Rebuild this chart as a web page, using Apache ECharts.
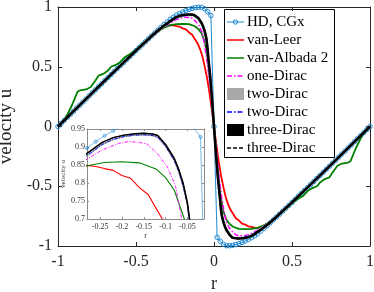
<!DOCTYPE html>
<html><head><meta charset="utf-8">
<script src="https://cdn.jsdelivr.net/npm/echarts@6/dist/echarts.min.js"></script>
<style>html,body{margin:0;padding:0;background:#fff}#c{width:374px;height:292px}</style>
</head><body><div id="c"></div>
<script>
// ---------- data ----------
const xTicks = [-1, -0.5, 0, 0.5, 1];
const yTicks = [-1, -0.5, 0, 0.5, 1];
const insetXTicks = [-0.25, -0.2, -0.15, -0.1, -0.05];
const insetYTicks = [0.7, 0.75, 0.8, 0.85, 0.9, 0.95];

const hdR = [-1,-0.98,-0.96,-0.94,-0.92,-0.9,-0.88,-0.86,-0.84,-0.82,-0.8,-0.78,-0.76,-0.74,-0.72,-0.7,-0.68,-0.66,-0.64,-0.62,-0.6,-0.58,-0.56,-0.54,-0.52,-0.5,-0.48,-0.46,-0.44,-0.42,-0.4,-0.38,-0.36,-0.34,-0.32,-0.3,-0.28,-0.26,-0.24,-0.22,-0.2,-0.18,-0.16,-0.14,-0.12,-0.1,-0.08,-0.06,-0.04,-0.02,0,
 0.02,0.04,0.06,0.08,0.1,0.12,0.14,0.16,0.18,0.2,0.22,0.24,0.26,0.28,0.3,0.32,0.34,0.36,0.38,0.4,0.42,0.44,0.46,0.48,0.5,0.52,0.54,0.56,0.58,0.6,0.62,0.64,0.66,0.68,0.7,0.72,0.74,0.76,0.78,0.8,0.82,0.84,0.86,0.88,0.9,0.92,0.94,0.96,0.98,1];
const hdU = [0,0.026,0.051,0.077,0.102,0.128,0.154,0.179,0.205,0.230,0.256,0.282,0.307,0.333,0.358,0.384,0.409,0.434,0.460,0.485,0.510,0.535,0.560,0.585,0.610,0.635,0.660,0.684,0.709,0.734,0.758,0.782,0.806,0.829,0.852,0.875,0.897,0.915,0.931,0.945,0.958,0.970,0.980,0.988,0.994,0.998,0.997,0.985,0.960,0.928,0,
 -0.928,-0.960,-0.985,-0.997,-0.998,-0.994,-0.988,-0.980,-0.970,-0.958,-0.945,-0.931,-0.915,-0.897,-0.875,-0.852,-0.829,-0.806,-0.782,-0.758,-0.734,-0.709,-0.684,-0.660,-0.635,-0.610,-0.585,-0.560,-0.535,-0.510,-0.485,-0.460,-0.434,-0.409,-0.384,-0.358,-0.333,-0.307,-0.282,-0.256,-0.230,-0.205,-0.179,-0.154,-0.128,-0.102,-0.077,-0.051,-0.026,0];

const vanLeer = [[-1,0],[-0.9,0.128],[-0.8,0.256],[-0.7,0.384],[-0.6,0.51],[-0.5,0.634],[-0.4,0.755],[-0.36,0.797],[-0.33,0.823],[-0.3,0.842],[-0.28,0.849],[-0.26,0.846],[-0.24,0.84],[-0.22,0.835],[-0.2,0.821],[-0.18,0.813],[-0.16,0.787],[-0.14,0.768],[-0.12,0.726],[-0.105,0.695],[-0.09,0.65],[-0.075,0.59],[-0.06,0.505],[-0.045,0.41],[-0.03,0.29],[-0.015,0.15],[0,0],
 [0.015,-0.15],[0.03,-0.29],[0.045,-0.41],[0.06,-0.505],[0.075,-0.59],[0.09,-0.65],[0.105,-0.695],[0.12,-0.726],[0.14,-0.768],[0.16,-0.787],[0.18,-0.813],[0.2,-0.821],[0.22,-0.835],[0.24,-0.84],[0.26,-0.846],[0.28,-0.849],[0.3,-0.842],[0.33,-0.823],[0.36,-0.797],[0.4,-0.755],[0.5,-0.634],[0.6,-0.51],[0.7,-0.384],[0.8,-0.256],[0.9,-0.128],[1,0]];

const vanAlbada2 = [[-1,0],[-0.95,0.075],[-0.91,0.18],[-0.875,0.29],[-0.86,0.302],[-0.82,0.31],[-0.79,0.33],[-0.76,0.385],[-0.74,0.425],[-0.71,0.44],[-0.68,0.468],[-0.66,0.5],[-0.63,0.515],[-0.6,0.54],[-0.57,0.582],[-0.53,0.612],[-0.48,0.665],[-0.44,0.712],[-0.4,0.758],[-0.36,0.795],[-0.32,0.828],[-0.28,0.848],[-0.24,0.857],[-0.2,0.859],[-0.16,0.856],[-0.122,0.839],[-0.1,0.815],[-0.08,0.78],[-0.057,0.7],[-0.04,0.56],[-0.02,0.31],[0,0],
 [0.02,-0.31],[0.04,-0.56],[0.057,-0.7],[0.08,-0.78],[0.1,-0.815],[0.122,-0.839],[0.16,-0.856],[0.2,-0.859],[0.24,-0.857],[0.28,-0.848],[0.32,-0.828],[0.36,-0.795],[0.4,-0.758],[0.44,-0.712],[0.48,-0.665],[0.53,-0.612],[0.57,-0.582],[0.6,-0.54],[0.63,-0.515],[0.66,-0.5],[0.68,-0.468],[0.71,-0.44],[0.74,-0.425],[0.76,-0.385],[0.79,-0.33],[0.82,-0.31],[0.86,-0.302],[0.875,-0.29],[0.91,-0.18],[0.95,-0.075],[1,0]];

const oneDirac = [[-1,0],[-0.9,0.128],[-0.8,0.256],[-0.7,0.384],[-0.6,0.51],[-0.5,0.634],[-0.4,0.755],[-0.36,0.798],[-0.32,0.834],[-0.283,0.864],[-0.245,0.892],[-0.207,0.91],[-0.184,0.915],[-0.161,0.913],[-0.142,0.908],[-0.119,0.882],[-0.096,0.845],[-0.077,0.79],[-0.063,0.7],[-0.05,0.6],[-0.035,0.45],[-0.018,0.24],[0,0],
 [0.018,-0.24],[0.035,-0.45],[0.05,-0.6],[0.063,-0.7],[0.077,-0.79],[0.096,-0.845],[0.119,-0.882],[0.142,-0.908],[0.161,-0.913],[0.184,-0.915],[0.207,-0.91],[0.245,-0.892],[0.283,-0.864],[0.32,-0.834],[0.36,-0.798],[0.4,-0.755],[0.5,-0.634],[0.6,-0.51],[0.7,-0.384],[0.8,-0.256],[0.9,-0.128],[1,0]];

const twoDirac = [[-1,0],[-0.9,0.128],[-0.8,0.256],[-0.7,0.384],[-0.6,0.51],[-0.5,0.635],[-0.4,0.756],[-0.36,0.8],[-0.32,0.84],[-0.28,0.876],[-0.245,0.907],[-0.22,0.921],[-0.195,0.929],[-0.17,0.933],[-0.15,0.934],[-0.13,0.932],[-0.118,0.927],[-0.1,0.902],[-0.08,0.862],[-0.07,0.832],[-0.06,0.792],[-0.05,0.74],[-0.046,0.7],[-0.036,0.565],[-0.025,0.425],[-0.012,0.215],[0,0],
 [0.012,-0.215],[0.025,-0.425],[0.036,-0.565],[0.046,-0.7],[0.05,-0.74],[0.06,-0.792],[0.07,-0.832],[0.08,-0.862],[0.1,-0.902],[0.118,-0.927],[0.13,-0.932],[0.15,-0.934],[0.17,-0.933],[0.195,-0.929],[0.22,-0.921],[0.245,-0.907],[0.28,-0.876],[0.32,-0.84],[0.36,-0.8],[0.4,-0.756],[0.5,-0.635],[0.6,-0.51],[0.7,-0.384],[0.8,-0.256],[0.9,-0.128],[1,0]];

const threeDirac = [[-1,0],[-0.9,0.128],[-0.8,0.256],[-0.7,0.384],[-0.6,0.51],[-0.5,0.635],[-0.4,0.757],[-0.36,0.803],[-0.32,0.845],[-0.28,0.882],[-0.245,0.913],[-0.22,0.926],[-0.195,0.933],[-0.17,0.937],[-0.15,0.938],[-0.13,0.936],[-0.118,0.932],[-0.1,0.907],[-0.08,0.868],[-0.07,0.838],[-0.06,0.8],[-0.05,0.745],[-0.045,0.7],[-0.036,0.57],[-0.025,0.43],[-0.012,0.22],[0,0],
 [0.012,-0.22],[0.025,-0.43],[0.036,-0.57],[0.045,-0.7],[0.05,-0.745],[0.06,-0.8],[0.07,-0.838],[0.08,-0.868],[0.1,-0.907],[0.118,-0.932],[0.13,-0.936],[0.15,-0.938],[0.17,-0.937],[0.195,-0.933],[0.22,-0.926],[0.245,-0.913],[0.28,-0.882],[0.32,-0.845],[0.36,-0.803],[0.4,-0.757],[0.5,-0.635],[0.6,-0.51],[0.7,-0.384],[0.8,-0.256],[0.9,-0.128],[1,0]];

const legendNames = ['HD, CGx', 'van-Leer', 'van-Albada 2', 'one-Dirac', 'two-Dirac', 'two-Dirac', 'three-Dirac', 'three-Dirac'];

// ---------- chart ----------
const FONT = 'Liberation Serif';
const HD_BLUE = '#1f8ad2';
const hd = hdR.map((r, i) => [r, hdU[i]]);

const seriesSpec = [
  {id: 'hd', data: hd, color: HD_BLUE, width: 1, marker: true},
  {id: 'vl', data: vanLeer, color: '#ff0000', width: 1.8},
  {id: 'va', data: vanAlbada2, color: '#008000', width: 1.8},
  {id: 'd1', data: oneDirac, color: '#ff00ff', width: 1.5, dash: [5, 2, 1.5, 2]},
  {id: 'd2p', data: twoDirac, color: '#a8a8a8', width: 2.5, patch: true},
  {id: 'd2', data: twoDirac, color: '#0000ff', width: 1.5, dash: [5, 2, 1.5, 2]},
  {id: 'd3p', data: threeDirac, color: '#000000', width: 2.5, patch: true},
  {id: 'd3', data: threeDirac, color: '#000000', width: 1.5, dash: [4, 2]}
];

const series = [];
seriesSpec.forEach((s, k) => {
  [0, 1].forEach(g => {
    const scale = g === 0 ? 1 : 0.6;
    series.push({
      id: s.id + '_' + g, name: legendNames[k], type: 'line', data: s.data,
      xAxisIndex: g * 2, yAxisIndex: g * 2,
      animation: false, clip: true,
      z: (g === 0 ? 2 : 10) + (s.marker ? 0 : 1),
      symbol: s.marker ? 'circle' : 'none', showSymbol: !!s.marker,
      symbolSize: g === 0 ? 4.5 : 3,
      itemStyle: {color: 'rgba(0,0,0,0)', borderColor: s.color, borderWidth: g === 0 ? 1 : 0.7},
      lineStyle: {color: s.color, width: s.width * scale,
                  type: s.dash ? s.dash.map(v => v * (g === 0 ? 1 : 0.7)) : 'solid'},
      emphasis: {disabled: true}
    });
  });
});

// legend drawn as graphic (duplicate names and MATLAB-like patch icons)
const LG = {x: 224.5, y: 9.5, w: 110, h: 148, row0: 22, pitch: 18, ix0: 227, ix1: 244, tx: 247};
const legendChildren = [{
  type: 'rect', shape: {x: LG.x, y: LG.y, width: LG.w, height: LG.h},
  style: {fill: '#ffffff', stroke: '#000000', lineWidth: 1}
}];
seriesSpec.forEach((s, k) => {
  const cy = LG.row0 + LG.pitch * k;
  if (s.patch) {
    legendChildren.push({type: 'rect', shape: {x: LG.ix0, y: cy - 6, width: LG.ix1 - LG.ix0, height: 12},
      style: {fill: s.color, stroke: null}});
  } else {
    legendChildren.push({type: 'line', shape: {x1: LG.ix0, y1: cy, x2: LG.ix1, y2: cy},
      style: {stroke: s.color, lineWidth: Math.min(s.width, 1.5), lineDash: s.dash || null}});
    if (s.marker) {
      legendChildren.push({type: 'circle', shape: {cx: (LG.ix0 + LG.ix1) / 2, cy: cy, r: 2.2},
        style: {fill: 'rgba(0,0,0,0)', stroke: s.color, lineWidth: 1}});
    }
  }
  legendChildren.push({type: 'text', x: LG.tx, y: cy,
    style: {text: legendNames[k], fill: '#000000', font: '15px "Liberation Serif"', verticalAlign: 'middle', align: 'left'}});
});

const mainLine = {show: true, onZero: false, lineStyle: {color: '#262626', width: 1}};
const insetLine = {show: true, onZero: false, lineStyle: {color: '#8c8c8c', width: 1}};
const mainLabel = {fontFamily: FONT, fontSize: 16, color: '#262626'};

const option = {
  backgroundColor: '#ffffff',
  animation: false,
  grid: [
    {left: 58, right: 4, top: 7, bottom: 46, outerBoundsMode: 'none', containLabel: false},
    {left: 87, top: 129, width: 117, height: 90, outerBoundsMode: 'none', containLabel: false,
     show: true, backgroundColor: '#ffffff', borderWidth: 0, z: 5}
  ],
  xAxis: [
    {type: 'value', gridIndex: 0, min: -1, max: 1, interval: 0.5, position: 'bottom',
     axisLine: mainLine, axisTick: {inside: true, length: 4, lineStyle: {color: '#262626'}},
     axisLabel: Object.assign({margin: 8}, mainLabel), splitLine: {show: false},
     name: 'r', nameLocation: 'middle', nameGap: 26, nameTextStyle: {fontFamily: FONT, fontSize: 18, color: '#262626'}},
    {type: 'value', gridIndex: 0, min: -1, max: 1, interval: 0.5, position: 'top',
     axisLine: mainLine, axisTick: {inside: true, length: 4, lineStyle: {color: '#262626'}},
     axisLabel: {show: false}, splitLine: {show: false}},
    {type: 'value', gridIndex: 1, min: -0.28, max: -0.012, position: 'bottom', z: 6,
     axisLine: insetLine, axisTick: {inside: true, length: 2, customValues: insetXTicks, lineStyle: {color: '#8c8c8c'}},
     axisLabel: {customValues: insetXTicks, fontFamily: FONT, fontSize: 8, color: '#333', margin: 4},
     splitLine: {show: false},
     name: 'r', nameLocation: 'middle', nameGap: 13, nameTextStyle: {fontFamily: FONT, fontSize: 8, color: '#333'}},
    {type: 'value', gridIndex: 1, min: -0.28, max: -0.012, position: 'top', z: 6,
     axisLine: insetLine, axisTick: {inside: true, length: 2, customValues: insetXTicks, lineStyle: {color: '#8c8c8c'}},
     axisLabel: {show: false}, splitLine: {show: false}}
  ],
  yAxis: [
    {type: 'value', gridIndex: 0, min: -1, max: 1, interval: 0.5, position: 'left',
     axisLine: mainLine, axisTick: {inside: true, length: 4, lineStyle: {color: '#262626'}},
     axisLabel: Object.assign({margin: 6}, mainLabel), splitLine: {show: false},
     name: 'velocity u', nameLocation: 'middle', nameGap: 39, nameTextStyle: {fontFamily: FONT, fontSize: 19, color: '#262626'}},
    {type: 'value', gridIndex: 0, min: -1, max: 1, interval: 0.5, position: 'right',
     axisLine: mainLine, axisTick: {inside: true, length: 4, lineStyle: {color: '#262626'}},
     axisLabel: {show: false}, splitLine: {show: false}},
    {type: 'value', gridIndex: 1, min: 0.7, max: 0.95, position: 'left', z: 6,
     axisLine: insetLine, axisTick: {inside: true, length: 2, customValues: insetYTicks, lineStyle: {color: '#8c8c8c'}},
     axisLabel: {customValues: insetYTicks, fontFamily: FONT, fontSize: 8, color: '#333', margin: 2},
     splitLine: {show: false},
     name: 'velocity u', nameLocation: 'middle', nameGap: 15, nameTextStyle: {fontFamily: FONT, fontSize: 7, color: '#333'}},
    {type: 'value', gridIndex: 1, min: 0.7, max: 0.95, position: 'right', z: 6,
     axisLine: insetLine, axisTick: {inside: true, length: 2, customValues: insetYTicks, lineStyle: {color: '#8c8c8c'}},
     axisLabel: {show: false}, splitLine: {show: false}}
  ],
  graphic: [{type: 'group', z: 100, silent: true, children: legendChildren}],
  series: series
};
const chart = echarts.init(document.getElementById('c'), null, {renderer: 'canvas'});
chart.setOption(option);
</script>
</body></html>
